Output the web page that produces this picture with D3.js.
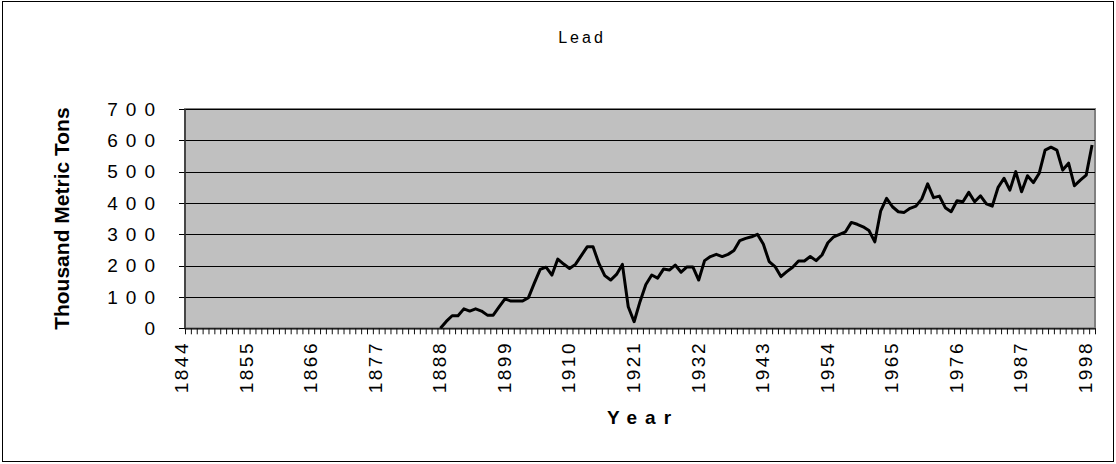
<!DOCTYPE html>
<html>
<head>
<meta charset="utf-8">
<script src="https://cdn.jsdelivr.net/npm/d3@7"></script>
<style>
  body { margin: 0; background: #fff; }
  text { font-family: Arial, "Liberation Sans", sans-serif; fill: #000; }
</style>
</head>
<body>
<div id="chart"></div>
<script>
// categories: one per year, first and last year on the axis
var firstYear = 1844, lastYear = 1998;
var years = d3.range(firstYear, lastYear + 1);
// labelled years on the x axis
var yearLabels = [1844, 1855, 1866, 1877, 1888, 1899, 1910, 1921, 1932, 1943, 1954, 1965, 1976, 1987, 1998];
// y tick labels
var yTicks = [0, 100, 200, 300, 400, 500, 600, 700];
// lead, thousand metric tons, from 1887 (no data before)
var leadStart = 1887;
var lead = [
  0, 22, 40, 40, 62, 55, 62, 55, 42, 42,
  68, 94, 87, 87, 87, 98, 144, 188, 195, 170,
  221, 205, 191, 204, 232, 260, 260, 207, 168, 154,
  172, 204, 69, 21, 85, 140, 170, 160, 189, 186,
  202, 179, 196, 196, 154, 216, 229, 236, 229, 236,
  248, 280, 287, 292, 300, 269, 213, 197, 165, 181,
  195, 215, 215, 229, 216, 234, 273, 292, 300, 308,
  338, 332, 324, 312, 276, 375, 415, 388, 372, 370,
  383, 390, 413, 461, 417, 422, 385, 372, 407, 404,
  434, 404, 423, 397, 390, 450, 479, 441, 500, 436,
  487, 465, 495, 569, 578, 569, 505, 527, 455, 473,
  489, 585
];

var width = 1116, height = 464;
var plotLeft = 185, plotRight = 1095, plotTop = 109, plotBottom = 328.3;

var svg = d3.select('#chart').append('svg')
    .attr('width', width)
    .attr('height', height);

// outer chart border
svg.append('rect')
    .attr('x', 2.5).attr('y', 1.5)
    .attr('width', 1111).attr('height', 460)
    .attr('fill', '#fff')
    .attr('stroke', '#000')
    .attr('stroke-width', 1);

var x = d3.scaleBand()
    .domain(years)
    .range([plotLeft, plotRight])
    .paddingInner(0).paddingOuter(0);
var xb = d3.scaleLinear()
    .domain([firstYear, lastYear + 1])
    .range([plotLeft, plotRight]);
var y = d3.scaleLinear()
    .domain([0, 700])
    .range([plotBottom, plotTop]);

// plot area
svg.append('rect')
    .attr('x', plotLeft).attr('y', plotTop)
    .attr('width', plotRight - plotLeft).attr('height', plotBottom - plotTop)
    .attr('fill', '#c0c0c0')
    .attr('stroke', '#808080')
    .attr('stroke-width', 2);

// gridlines + y ticks
svg.append('g')
    .attr('transform', 'translate(' + plotLeft + ',0)')
    .call(d3.axisLeft(y).tickValues(yTicks).tickSize(-(plotRight - plotLeft)).tickSizeOuter(0).tickFormat(''))
    .call(function(g) {
        g.select('.domain').remove();
        g.selectAll('.tick line')
            .attr('stroke', '#000')
            .attr('x1', -6)
            .attr('shape-rendering', 'crispEdges');
    });

// y labels (spaced digits)
svg.append('g').selectAll('text')
    .data(yTicks)
    .enter().append('text')
    .attr('x', 155 + 8)
    .attr('y', function(d) { return y(d); })
    .attr('dy', '0.36em')
    .attr('text-anchor', 'end')
    .style('font-size', '19px')
    .style('letter-spacing', '8px')
    .text(function(d) { return d; });

// x tick marks at category boundaries
svg.append('g')
    .attr('transform', 'translate(0,' + plotBottom + ')')
    .call(d3.axisBottom(xb).tickValues(d3.range(firstYear, lastYear + 2)).tickSize(6).tickSizeOuter(0).tickFormat(''))
    .call(function(g) {
        g.select('.domain').attr('stroke', '#222').attr('stroke-width', 1.5);
        g.selectAll('.tick line').attr('stroke', '#111');
    });

// left axis line
svg.append('line')
    .attr('x1', plotLeft).attr('x2', plotLeft)
    .attr('y1', plotTop).attr('y2', plotBottom)
    .attr('stroke', '#333').attr('stroke-width', 1.5);

// x labels rotated
svg.append('g').selectAll('text')
    .data(yearLabels)
    .enter().append('text')
    .attr('transform', function(d) {
        return 'translate(' + (x(d) + x.bandwidth() / 2) + ',' + 341 + ') rotate(-90)';
    })
    .attr('text-anchor', 'end')
    .style('font-size', '19px')
    .style('letter-spacing', '2.5px')
    .text(function(d) { return d; });

// series line
var series = lead.map(function(v, i) { return { year: leadStart + i, value: v }; });
var line = d3.line()
    .x(function(d) { return x(d.year) + x.bandwidth() / 2; })
    .y(function(d) { return y(d.value); });
svg.append('path')
    .datum(series)
    .attr('d', line)
    .attr('fill', 'none')
    .attr('stroke', '#000')
    .attr('stroke-width', 3)
    .attr('stroke-linejoin', 'round');

// title
svg.append('text')
    .attr('x', 582).attr('y', 43)
    .attr('text-anchor', 'middle')
    .style('font-size', '16px')
    .style('letter-spacing', '3px')
    .text('Lead');

// x axis title
svg.append('text')
    .attr('x', 643).attr('y', 424)
    .attr('text-anchor', 'middle')
    .style('font-size', '19px')
    .style('font-weight', 'bold')
    .style('letter-spacing', '8px')
    .text('Year');

// y axis title
svg.append('text')
    .attr('transform', 'translate(69,' + ((plotTop + plotBottom) / 2) + ') rotate(-90)')
    .attr('text-anchor', 'middle')
    .style('font-size', '21px')
    .style('font-weight', 'bold')
    .text('Thousand Metric Tons');
</script>
</body>
</html>
